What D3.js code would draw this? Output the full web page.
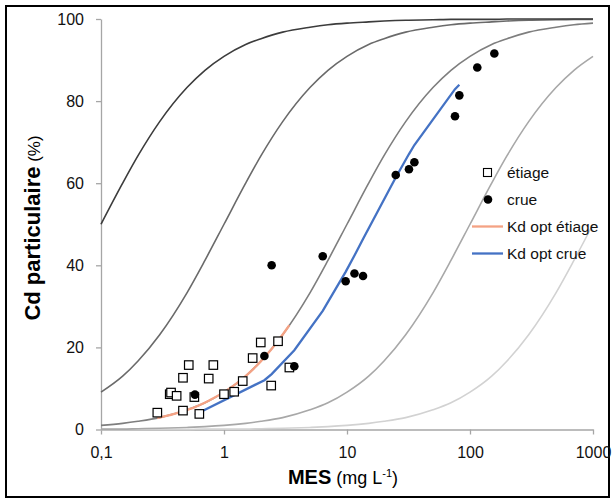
<!DOCTYPE html>
<html>
<head>
<meta charset="utf-8">
<script src="https://cdn.jsdelivr.net/npm/d3@7"></script>
<style>
  html, body { margin: 0; padding: 0; background: #fff; }
  svg { display: block; font-family: Arial, "Liberation Sans", sans-serif; }
</style>
</head>
<body>
<svg id="chart" width="612" height="502"></svg>
<script>
// ---------------- data ----------------
const xTicks = [0.1, 1, 10, 100, 1000];
const xTickLabels = ["0,1", "1", "10", "100", "1000"];
const yTicks = [0, 20, 40, 60, 80, 100];

// MES values at which the reference curves are read
const theoryMES = [0.1, 0.15, 0.2, 0.3, 0.5, 0.7, 1, 1.5, 2, 3, 5, 7, 10, 15, 20, 30, 50, 70, 100, 150, 200, 300, 500, 700, 1000];
// reference curves (Cd particulaire %), darkest to lightest
const theory1 = [50.0, 60.0, 66.7, 75.0, 83.3, 87.5, 90.9, 93.8, 95.2, 96.8, 98.0, 98.6, 99.0, 99.3, 99.5, 99.7, 99.8, 99.9, 99.9, 99.9, 100.0, 100.0, 100.0, 100.0, 100.0];
const theory2 = [9.1, 13.0, 16.7, 23.1, 33.3, 41.2, 50.0, 60.0, 66.7, 75.0, 83.3, 87.5, 90.9, 93.8, 95.2, 96.8, 98.0, 98.6, 99.0, 99.3, 99.5, 99.7, 99.8, 99.9, 99.9];
const theory3 = [1.0, 1.5, 2.0, 2.9, 4.8, 6.5, 9.1, 13.0, 16.7, 23.1, 33.3, 41.2, 50.0, 60.0, 66.7, 75.0, 83.3, 87.5, 90.9, 93.8, 95.2, 96.8, 98.0, 98.6, 99.0];
const theory4 = [0.1, 0.1, 0.2, 0.3, 0.5, 0.7, 1.0, 1.5, 2.0, 2.9, 4.8, 6.5, 9.1, 13.0, 16.7, 23.1, 33.3, 41.2, 50.0, 60.0, 66.7, 75.0, 83.3, 87.5, 90.9];
const theory5 = [0.0, 0.0, 0.0, 0.0, 0.0, 0.1, 0.1, 0.1, 0.2, 0.3, 0.5, 0.7, 1.0, 1.5, 2.0, 2.9, 4.8, 6.5, 9.1, 13.0, 16.7, 23.1, 33.3, 41.2, 50.0];
const theoryColors = ["#3c3c3c", "#6a6a6a", "#7e7e7e", "#a8a8a8", "#d2d2d2"];

// étiage observations
const etiageMES = [0.287, 0.362, 0.371, 0.412, 0.464, 0.464, 0.517, 0.574, 0.63, 0.751, 0.819, 1.0, 1.21, 1.42, 1.71, 1.99, 2.42, 2.75, 3.40];
const etiageCd  = [4.1, 8.6, 9.0, 8.2, 12.6, 4.6, 15.7, 7.9, 3.8, 12.4, 15.7, 8.6, 9.2, 11.8, 17.4, 21.2, 10.7, 21.5, 15.1];

// crue observations
const crueMES = [0.58, 2.13, 2.44, 3.73, 6.35, 9.75, 11.5, 13.5, 24.9, 31.9, 35.3, 75.5, 81.9, 114.6, 157.7];
const crueCd  = [8.5, 17.9, 40.0, 15.4, 42.2, 36.1, 38.0, 37.4, 62.0, 63.4, 65.1, 76.3, 81.4, 88.2, 91.6];

// Kd opt étiage line
const optEtiageMES = [0.287, 0.362, 0.412, 0.464, 0.517, 0.574, 0.63, 0.751, 0.819, 1.0, 1.21, 1.42, 1.71, 1.99, 2.42, 2.75, 3.40];
const optEtiageCd  = [2.8, 3.5, 4.0, 4.4, 4.9, 5.4, 5.9, 7.0, 7.6, 9.1, 10.8, 12.4, 14.6, 16.6, 19.5, 21.6, 25.4];

// Kd opt crue line
const optCrueMES = [0.58, 2.13, 2.44, 3.73, 6.35, 9.75, 11.5, 13.5, 24.9, 31.9, 35.3, 75.5, 81.9];
const optCrueCd  = [3.6, 12.0, 13.5, 19.3, 28.9, 38.4, 42.4, 46.4, 61.4, 67.1, 69.3, 82.9, 84.0];

const legendLabels = ["étiage", "crue", "Kd opt étiage", "Kd opt crue"];

// ---------------- drawing ----------------
const svg = d3.select("#chart");
const x = d3.scaleLog().domain([0.1, 1000]).range([101, 593]);
const y = d3.scaleLinear().domain([0, 100]).range([429.5, 19]);

// outer frame
svg.append("rect").attr("x", 6).attr("y", 6).attr("width", 603).attr("height", 491)
  .attr("fill", "none").attr("stroke", "#000").attr("stroke-width", 2);

// axes
const axisColor = "#a6a6a6";
const yAxis = svg.append("g").attr("transform", `translate(${x(0.1)},0)`)
  .call(d3.axisLeft(y).tickValues(yTicks).tickSize(5).tickSizeOuter(0).tickPadding(12).tickFormat(d3.format("d")));
const xAxis = svg.append("g").attr("transform", `translate(0,${y(0)})`)
  .call(d3.axisBottom(x).tickValues(xTicks).tickSize(5).tickSizeOuter(0).tickPadding(12)
    .tickFormat((d, i) => xTickLabels[i]));
[yAxis, xAxis].forEach(g => {
  g.select(".domain").attr("stroke", axisColor).attr("stroke-width", 1.3);
  g.selectAll(".tick line").attr("stroke", axisColor).attr("stroke-width", 1.3);
  g.selectAll(".tick text").attr("fill", "#111").style("font-size", "16px")
    .style("font-family", "Arial, 'Liberation Sans', sans-serif");
});

// theory curves
const line = d3.line().x(d => x(d[0])).y(d => y(d[1])).curve(d3.curveMonotoneX);
const theories = [theory1, theory2, theory3, theory4, theory5];
theories.slice().reverse().forEach((vals, ri) => {
  const i = theories.length - 1 - ri;
  svg.append("path")
    .attr("d", line(theoryMES.map((m, j) => [m, vals[j]])))
    .attr("fill", "none").attr("stroke", theoryColors[i]).attr("stroke-width", 1.6);
});

// optimised lines
svg.append("path").attr("d", line(optEtiageMES.map((m, j) => [m, optEtiageCd[j]])))
  .attr("fill", "none").attr("stroke", "#f4a284").attr("stroke-width", 2.3);
svg.append("path").attr("d", d3.line().x(d => x(d[0])).y(d => y(d[1]))(optCrueMES.map((m, j) => [m, optCrueCd[j]])))
  .attr("fill", "none").attr("stroke", "#4472c4").attr("stroke-width", 2.3);

// étiage squares
const sq = 8.5;
svg.append("g").selectAll("rect").data(etiageMES.map((m, j) => [m, etiageCd[j]])).join("rect")
  .attr("x", d => x(d[0]) - sq / 2).attr("y", d => y(d[1]) - sq / 2)
  .attr("width", sq).attr("height", sq)
  .attr("fill", "#fff").attr("stroke", "#000").attr("stroke-width", 1.2);

// crue dots
svg.append("g").selectAll("circle").data(crueMES.map((m, j) => [m, crueCd[j]])).join("circle")
  .attr("cx", d => x(d[0])).attr("cy", d => y(d[1])).attr("r", 4.3).attr("fill", "#000");

// legend
const lg = svg.append("g").style("font-size", "15.5px").attr("fill", "#111");
const rowY = [172.5, 199.5, 226.5, 253.5];
lg.append("rect").attr("x", 487.5 - 4).attr("y", rowY[0] - 4).attr("width", 8).attr("height", 8)
  .attr("fill", "#fff").attr("stroke", "#000").attr("stroke-width", 1.1);
lg.append("circle").attr("cx", 488).attr("cy", rowY[1]).attr("r", 4.3).attr("fill", "#000");
lg.append("line").attr("x1", 472).attr("x2", 503).attr("y1", rowY[2]).attr("y2", rowY[2])
  .attr("stroke", "#f4a284").attr("stroke-width", 2.3);
lg.append("line").attr("x1", 472).attr("x2", 503).attr("y1", rowY[3]).attr("y2", rowY[3])
  .attr("stroke", "#4472c4").attr("stroke-width", 2.3);
legendLabels.forEach((t, i) => {
  lg.append("text").attr("x", 507).attr("y", rowY[i]).attr("dy", "0.35em").text(t);
});

// y title
const yt = svg.append("text").attr("transform", "translate(40,228) rotate(-90)")
  .attr("text-anchor", "middle").attr("fill", "#000");
yt.append("tspan").style("font-weight", "bold").style("font-size", "22px").text("Cd particulaire");
yt.append("tspan").style("font-size", "17px").text(" (%)");

// x title
const xt = svg.append("text").attr("x", 343).attr("y", 484).attr("text-anchor", "middle").attr("fill", "#000");
xt.append("tspan").style("font-weight", "bold").style("font-size", "20px").text("MES");
xt.append("tspan").style("font-size", "18px").text(" (mg L");
xt.append("tspan").style("font-size", "11px").attr("dy", "-7").text("-1");
xt.append("tspan").style("font-size", "18px").attr("dy", "7").text(")");
</script>
</body>
</html>
